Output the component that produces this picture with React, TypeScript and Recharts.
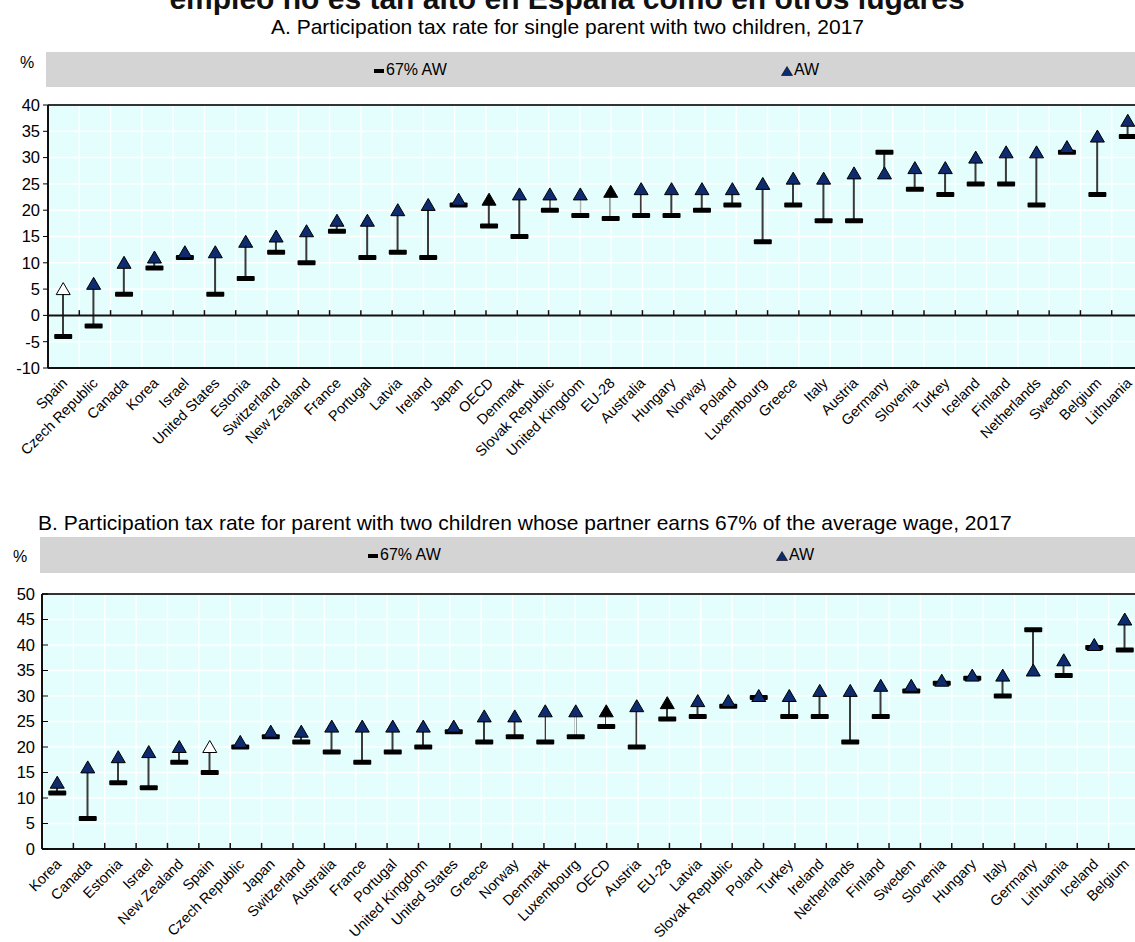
import React from 'react';
import { ComposedChart, Bar, Scatter, XAxis, YAxis, CartesianGrid, ReferenceLine } from 'recharts';

const FONT = "'Liberation Sans', Arial, sans-serif";
const NAVY = '#0d2b6e';

// Panel A: single parent with two children
const countriesA = [
  'Spain', 'Czech Republic', 'Canada', 'Korea', 'Israel', 'United States', 'Estonia', 'Switzerland',
  'New Zealand', 'France', 'Portugal', 'Latvia', 'Ireland', 'Japan', 'OECD', 'Denmark',
  'Slovak Republic', 'United Kingdom', 'EU-28', 'Australia', 'Hungary', 'Norway', 'Poland', 'Luxembourg',
  'Greece', 'Italy', 'Austria', 'Germany', 'Slovenia', 'Turkey', 'Iceland', 'Finland',
  'Netherlands', 'Sweden', 'Belgium', 'Lithuania',
];
const awA = [5, 6, 10, 11, 12, 12, 14, 15, 16, 18, 18, 20, 21, 22, 22, 23, 23, 23, 23.5, 24, 24, 24, 24, 25, 26, 26, 27, 27, 28, 28, 30, 31, 31, 32, 34, 37];
const aw67A = [-4, -2, 4, 9, 11, 4, 7, 12, 10, 16, 11, 12, 11, 21, 17, 15, 20, 19, 18.4, 19, 19, 20, 21, 14, 21, 18, 18, 31, 24, 23, 25, 25, 21, 31, 23, 34];
const ticksA = [-10, -5, 0, 5, 10, 15, 20, 25, 30, 35, 40];

// Panel B: parent whose partner earns 67% of AW
const countriesB = [
  'Korea', 'Canada', 'Estonia', 'Israel', 'New Zealand', 'Spain', 'Czech Republic', 'Japan',
  'Switzerland', 'Australia', 'France', 'Portugal', 'United Kingdom', 'United States', 'Greece', 'Norway',
  'Denmark', 'Luxembourg', 'OECD', 'Austria', 'EU-28', 'Latvia', 'Slovak Republic', 'Poland',
  'Turkey', 'Ireland', 'Netherlands', 'Finland', 'Sweden', 'Slovenia', 'Hungary', 'Italy',
  'Germany', 'Lithuania', 'Iceland', 'Belgium',
];
const awB = [13, 16, 18, 19, 20, 20, 21, 23, 23, 24, 24, 24, 24, 24, 26, 26, 27, 27, 27, 28, 28.6, 29, 29, 30, 30, 31, 31, 32, 32, 33, 34, 34, 35, 37, 40, 45];
const aw67B = [11, 6, 13, 12, 17, 15, 20, 22, 21, 19, 17, 19, 20, 23, 21, 22, 21, 22, 24, 20, 25.5, 26, 28, 29.7, 26, 26, 21, 26, 31, 32.5, 33.5, 30, 43, 34, 39.5, 39];
const ticksB = [0, 5, 10, 15, 20, 25, 30, 35, 40, 45, 50];

const blackMarkers = ['OECD', 'EU-28'];
const hollowMarkers = ['Spain'];

const buildRows = (names: string[], aw: number[], low: number[]) =>
  names.map((name, i) => ({
    name,
    aw: aw[i],
    low: low[i],
    span: [Math.min(aw[i], low[i]), Math.max(aw[i], low[i])],
  }));

const rowsA = buildRows(countriesA, awA, aw67A);
const rowsB = buildRows(countriesB, awB, aw67B);

const triangleShape = (props: any) => {
  const { cx, cy, payload } = props;
  let fill = NAVY;
  if (blackMarkers.includes(payload.name)) fill = '#000';
  if (hollowMarkers.includes(payload.name)) fill = '#fff';
  return (
    <path
      d={`M${cx},${cy - 6.5} L${cx + 7},${cy + 5.5} L${cx - 7},${cy + 5.5} Z`}
      fill={fill}
      stroke="#000"
      strokeWidth={1}
    />
  );
};

const dashShape = (props: any) => {
  const { cx, cy } = props;
  return <rect x={cx - 9} y={cy - 2.5} width={18} height={5} rx={1} fill="#000" />;
};

const SlantTick = (props: any) => {
  const { x, y, payload } = props;
  return (
    <g transform={`translate(${x + 5},${y + 16})`}>
      <text textAnchor="end" transform="rotate(-45)" fontSize={14.5} fill="#000" fontFamily={FONT}>
        {payload.value}
      </text>
    </g>
  );
};

interface PanelProps {
  rows: any[];
  ticks: number[];
  height: number;
  margin: { top: number; left: number; right: number; bottom: number };
  xAxisHeight: number;
  inward: boolean;
  tickLen: number;
}

const Panel: React.FC<PanelProps> = ({ rows, ticks, height, margin, xAxisHeight, inward, tickLen }) => {
  const n = rows.length;
  const bounds = Array.from({ length: n - 1 }, (_, i) => i + 1);
  const lo = ticks[0];
  const hi = ticks[ticks.length - 1];
  return (
    <ComposedChart width={1150} height={height} data={rows} margin={margin}>
      <CartesianGrid vertical={false} stroke="#ffffff" strokeWidth={1.5} fill="#e4fdfd" fillOpacity={1} />
      <XAxis xAxisId="grid" type="number" domain={[0, n]} hide allowDataOverflow />
      <XAxis
        dataKey="name"
        interval={0}
        tick={<SlantTick />}
        tickLine={false}
        tickSize={0}
        tickMargin={0}
        height={xAxisHeight}
        axisLine={{ stroke: '#111', strokeWidth: 2 }}
      />
      <YAxis
        domain={[lo, hi]}
        ticks={ticks}
        interval={0}
        allowDataOverflow
        width={40}
        tick={{ fill: '#000', fontSize: 16.5, fontFamily: FONT }}
        tickSize={inward ? -6 : 5}
        tickMargin={inward ? 13 : 3}
        tickLine={{ stroke: '#000', strokeWidth: 1 }}
        axisLine={{ stroke: '#111', strokeWidth: 2 }}
      />
      {bounds.map((b) => (
        <ReferenceLine key={'g' + b} xAxisId="grid" x={b} stroke="#ffffff" strokeWidth={1.5} />
      ))}
      <ReferenceLine y={hi} stroke="#333" strokeWidth={2} />
      <ReferenceLine y={0} stroke="#111" strokeWidth={2} />
      {bounds.map((b) => (
        <ReferenceLine
          key={'t' + b}
          xAxisId="grid"
          segment={[{ x: b, y: 0 }, { x: b, y: tickLen }]}
          stroke="#111"
          strokeWidth={1.5}
        />
      ))}
      <Bar dataKey="span" barSize={2} fill="#3a3a3a" isAnimationActive={false} />
      <Scatter dataKey="low" shape={dashShape} isAnimationActive={false} />
      <Scatter dataKey="aw" shape={triangleShape} isAnimationActive={false} />
    </ComposedChart>
  );
};

const LegendDash = () => (
  <span style={{ display: 'inline-block', width: 10, height: 4, background: '#000', verticalAlign: 'middle', marginRight: 2 }} />
);
const LegendTri = () => (
  <svg width={12} height={10} style={{ verticalAlign: 'middle', marginRight: 1 }}>
    <path d="M6,0.5 L11.5,9.5 L0.5,9.5 Z" fill={NAVY} stroke="#000" strokeWidth={0.6} />
  </svg>
);

const abs = (style: React.CSSProperties): React.CSSProperties => ({ position: 'absolute', ...style });

export default function App() {
  return (
    <div style={abs({ left: 0, top: 0, width: 1135, height: 942, overflow: 'hidden', background: '#fff', fontFamily: FONT, color: '#000' })}>
      <div style={abs({ left: 0, top: 0 })}>
        <Panel
          rows={rowsA}
          ticks={ticksA}
          height={465}
          margin={{ top: 105, left: 8, right: 7, bottom: 0 }}
          xAxisHeight={97}
          inward={false}
          tickLen={1}
        />
      </div>
      <div style={abs({ left: 0, top: 470 })}>
        <Panel
          rows={rowsB}
          ticks={ticksB}
          height={472}
          margin={{ top: 124, left: 2, right: 10, bottom: 0 }}
          xAxisHeight={93}
          inward={true}
          tickLen={1.2}
        />
      </div>

      <svg width={1135} height={16} style={abs({ left: 0, top: 0 })}>
        <text x={567} y={9} textAnchor="middle" fontWeight="bold" fontSize={30} fontFamily={FONT} fill="#111">
          empleo no es tan alto en España como en otros lugares
        </text>
      </svg>

      <div style={abs({ left: 0, top: 16, width: 1135, textAlign: 'center', fontSize: 21, lineHeight: '21px', whiteSpace: 'nowrap' })}>
        A. Participation tax rate for single parent with two children, 2017
      </div>
      <div style={abs({ left: 46, top: 52, width: 1089, height: 35, background: '#d4d4d4' })} />
      <div style={abs({ left: 20, top: 55, fontSize: 16, lineHeight: '16px' })}>%</div>
      <div style={abs({ left: 374, top: 62, fontSize: 16, lineHeight: '16px', whiteSpace: 'nowrap' })}>
        <LegendDash />67% AW
      </div>
      <div style={abs({ left: 781, top: 62, fontSize: 16, lineHeight: '16px', whiteSpace: 'nowrap' })}>
        <LegendTri />AW
      </div>

      <div style={abs({ left: 38, top: 512, fontSize: 21, lineHeight: '21px', whiteSpace: 'nowrap' })}>
        B. Participation tax rate for parent with two children whose partner earns 67% of the average wage, 2017
      </div>
      <div style={abs({ left: 40, top: 537, width: 1095, height: 36, background: '#d4d4d4' })} />
      <div style={abs({ left: 13, top: 549, fontSize: 16, lineHeight: '16px' })}>%</div>
      <div style={abs({ left: 368, top: 547, fontSize: 16, lineHeight: '16px', whiteSpace: 'nowrap' })}>
        <LegendDash />67% AW
      </div>
      <div style={abs({ left: 776, top: 547, fontSize: 16, lineHeight: '16px', whiteSpace: 'nowrap' })}>
        <LegendTri />AW
      </div>
    </div>
  );
}
